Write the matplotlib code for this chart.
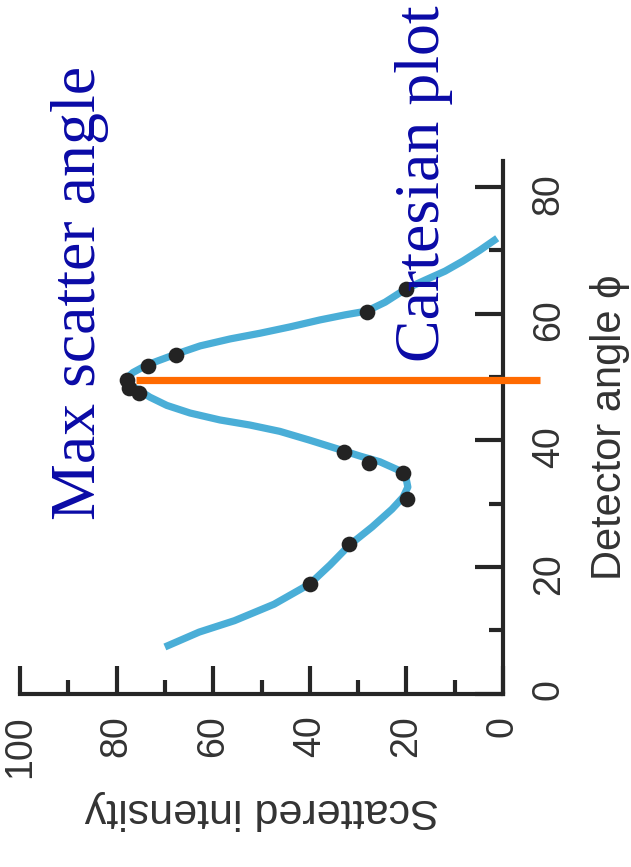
import matplotlib
matplotlib.use("Agg")
import matplotlib.pyplot as plt

# Measured data points (detector angle, scattered intensity)
point_angle = [17.3, 23.6, 30.7, 34.8, 36.4, 38.1, 47.4, 48.2, 49.5, 51.7, 53.5, 60.2, 63.9]
point_intensity = [39.9, 31.8, 19.9, 20.8, 27.7, 32.9, 75.3, 77.4, 77.9, 73.6, 67.7, 28.2, 20.1]

# Fitted curve
curve_angle = [7.35, 9.7, 11.5, 14.1, 17.3, 20.3, 23.5, 26.3, 29.1, 31.0, 32.6, 34.1, 35.3,
               36.6, 37.5, 38.5, 40.0, 41.4, 42.4, 43.2, 44.3, 45.5, 46.8, 48.0, 49.4,
               50.7, 51.9, 53.6, 54.9, 56.0, 56.9, 57.9, 59.0, 59.8, 60.4, 61.8, 63.9,
               65.3, 66.7, 68.3, 70.0, 71.9]
curve_intensity = [70.0, 62.9, 55.6, 47.4, 40.0, 35.8, 31.7, 27.1, 23.0, 20.7, 19.7, 20.1, 21.7,
                   25.5, 29.6, 33.7, 40.0, 46.2, 52.4, 58.6, 64.8, 69.6, 73.1, 75.6, 78.5,
                   76.6, 73.7, 67.7, 62.7, 56.5, 50.3, 44.1, 37.9, 32.7, 28.2, 24.4, 20.1,
                   16.1, 12.0, 8.3, 4.8, 1.2]

max_angle = 49.5
max_line_intensity = [76.0, -7.7]

x_ticks_major = [100, 80, 60, 40, 20, 0]
x_ticks_minor = [90, 70, 50, 30, 10]
y_ticks_major = [0, 20, 40, 60, 80]
y_ticks_minor = [10, 30, 50, 70]

W, H = 631, 867
fig = plt.figure(figsize=(W / 100, H / 100), dpi=100)
ax = fig.add_axes([20 / W, 1 - 693.5 / H, (503 - 20) / W, (693.5 - 161) / H])

curve_color = "#4aaed7"
ax.plot(curve_intensity, curve_angle, color=curve_color, lw=5.2, solid_capstyle="butt",
        solid_joinstyle="round", clip_on=False, zorder=2)
ax.plot(max_line_intensity, [max_angle, max_angle], color="#ff6a00", lw=5.2,
        solid_capstyle="butt", clip_on=False, zorder=3)
ax.plot(point_intensity, point_angle, "o", color="#232323", ms=11.3, mew=0,
        clip_on=False, zorder=4)

ax.set_xlim(100, 0)
ax.set_ylim(0, 84.1)

for s in ["left", "top"]:
    ax.spines[s].set_visible(False)
for s in ["bottom", "right"]:
    ax.spines[s].set_linewidth(3.0)
    ax.spines[s].set_color("#262626")

ax.set_xticks(x_ticks_major)
ax.set_xticks(x_ticks_minor, minor=True)
ax.set_yticks(y_ticks_major)
ax.set_yticks(y_ticks_minor, minor=True)
ax.yaxis.tick_right()

ax.tick_params(axis="both", which="major", direction="in", length=20, width=3.0,
               color="#262626", labelsize=27, labelcolor="#333333")
ax.tick_params(axis="both", which="minor", direction="in", length=10, width=3.0,
               color="#262626")
ax.tick_params(axis="x", which="major", pad=16)
ax.tick_params(axis="y", which="major", pad=20)
ax.tick_params(axis="y", which="both", left=False, right=True)

for lab in ax.get_xticklabels() + ax.get_yticklabels():
    lab.set_rotation(90)
    lab.set_fontfamily(["Liberation Sans", "DejaVu Sans"])

fig.text(261.5 / W, 1 - 810 / H, "Scattered intensity", rotation=180, ha="center", va="center",
         fontsize=31, color="#333333", family=["Liberation Sans", "DejaVu Sans"])
fig.text(610 / W, 1 - 427 / H, "Detector angle ϕ", rotation=90, ha="center", va="center",
         fontsize=30, color="#333333", family=["Liberation Sans", "DejaVu Sans"])

blue = "#0a0aa6"
fig.text(95 / W, 1 - 520 / H, "Max scatter angle", rotation=90, rotation_mode="anchor",
         ha="left", va="baseline", fontsize=46, color=blue,
         family=["Liberation Serif", "DejaVu Serif"])
fig.text(439 / W, 1 - 362 / H, "Cartesian plot", rotation=90, rotation_mode="anchor",
         ha="left", va="baseline", fontsize=46, color=blue,
         family=["Liberation Serif", "DejaVu Serif"])

fig.savefig("out.png", dpi=100)
